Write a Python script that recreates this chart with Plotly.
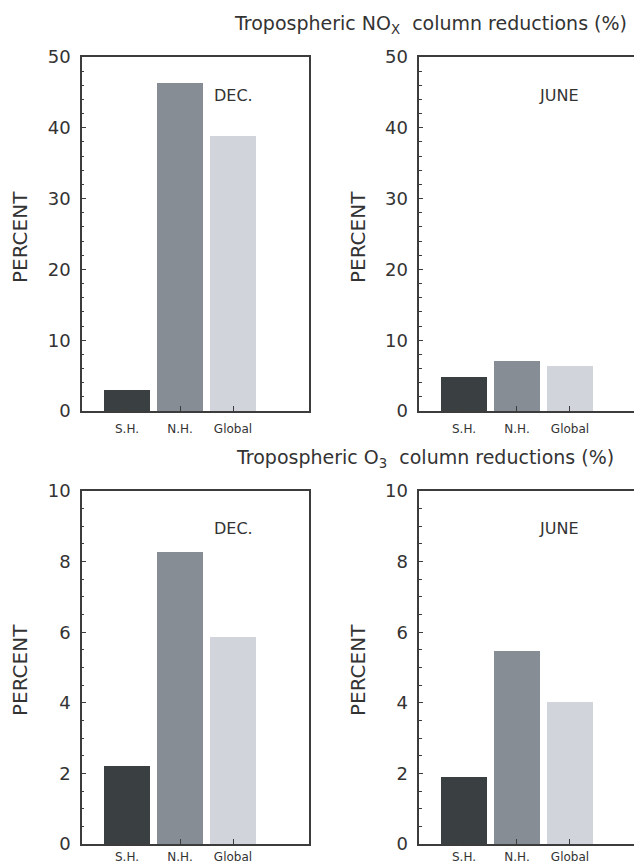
import plotly.graph_objects as go

categories = ["S.H.", "N.H.", "Global"]
nox_dec = [3.0, 46.3, 38.8]
nox_june = [4.8, 7.1, 6.4]
o3_dec = [2.2, 8.27, 5.86]
o3_june = [1.89, 5.47, 4.01]
bar_colors = ["#3a4042", "#878d94", "#d1d4db"]
xpos = [1, 2, 3]

W, H = 642, 863
OFF = 8  # default body margin of the page
TXT = "#333333"
LINE = "#3c3c3c"
FONT = "DejaVu Sans"


def px_x(sx):
    return (sx - OFF) / W


def px_y(sy):
    return 1 - (sy - OFF) / H


fig = go.Figure()

panels = [
    (nox_dec, "x", "y", "y5", (82, 309), (57, 411), 50, 10, 2, 1, (0.151, 4.434), "DEC.", (3.0, 44.5), 6),
    (nox_june, "x2", "y2", "y6", (419.3, 644.5), (57, 411), 50, 10, 2, 1, (0.157, 4.406), "JUNE", (2.79, 44.5), 6),
    (o3_dec, "x3", "y3", "y7", (82, 309), (491, 844), 10, 2, 0.5, 0.5, (0.151, 4.434), "DEC.", (3.0, 8.95), 1),
    (o3_june, "x4", "y4", "y8", (419.3, 644.5), (491, 844), 10, 2, 0.5, 0.5, (0.157, 4.406), "JUNE", (2.79, 8.95), 1),
]

layout = {}
for (vals, xa, ya, yr, xd, yd, ymax, dt, mnl, mnr, xr, lab, lpos, xstand) in panels:
    fig.add_trace(go.Bar(
        x=xpos, y=vals, width=0.87, xaxis=xa, yaxis=ya,
        marker=dict(color=bar_colors, line=dict(width=0)),
        showlegend=False, hoverinfo="skip"))
    xkey = "xaxis" + xa[1:]
    ykey = "yaxis" + ya[1:]
    yrkey = "yaxis" + yr[1:]
    xdom = [px_x(xd[0]), min(px_x(xd[1]), 1.0)]
    ydom = [px_y(yd[1]), px_y(yd[0])]
    layout[xkey] = dict(
        domain=xdom, range=list(xr), anchor=ya, automargin=False,
        tickvals=xpos, ticktext=categories, ticks="inside", ticklen=5,
        tickcolor=LINE, tickwidth=1.2,
        showline=True, linecolor=LINE, linewidth=1.8, mirror=True,
        showgrid=False, zeroline=False,
        tickfont=dict(size=12, color=TXT, family=FONT),
        ticklabelstandoff=xstand,
    )
    layout[ykey] = dict(
        domain=ydom, range=[0, ymax], anchor=xa, automargin=False,
        dtick=dt, tick0=0, ticks="inside", ticklen=4, tickcolor=LINE, tickwidth=1.2,
        minor=dict(dtick=mnl, ticks="inside", ticklen=2.5, tickcolor=LINE, tickwidth=1),
        showline=True, linecolor=LINE, linewidth=1.5, mirror=True,
        showgrid=False, zeroline=False,
        tickfont=dict(size=18, color=TXT, family=FONT),
        ticklabelstandoff=6,
    )
    layout[yrkey] = dict(
        domain=ydom, range=[0, ymax], overlaying=ya, anchor=xa, side="right",
        automargin=False,
        dtick=dt, tick0=0, ticks="inside", ticklen=5, tickcolor=LINE, tickwidth=1.2,
        minor=dict(dtick=mnr, ticks="inside", ticklen=3, tickcolor=LINE, tickwidth=1),
        showticklabels=False, showline=False, showgrid=False, zeroline=False,
    )
    fig.add_annotation(x=lpos[0], y=lpos[1], xref=xa, yref=ya, text=lab,
                       showarrow=False, font=dict(size=16, color=TXT, family=FONT))

for sx, sy in [(20, 237), (358, 237), (20, 670), (358, 670)]:
    fig.add_annotation(x=px_x(sx), y=px_y(sy), xref="paper", yref="paper", text="PERCENT",
                       textangle=-90, showarrow=False, xanchor="center", yanchor="middle",
                       font=dict(size=20, color=TXT, family=FONT))

fig.add_annotation(x=px_x(430), y=px_y(25), xref="paper", yref="paper",
                   text="Tropospheric NO<sub>X</sub>  column reductions (%)",
                   showarrow=False, xanchor="center", yanchor="middle",
                   font=dict(size=19, color=TXT, family=FONT))
fig.add_annotation(x=px_x(425), y=px_y(458), xref="paper", yref="paper",
                   text="Tropospheric O<sub>3</sub>  column reductions (%)",
                   showarrow=False, xanchor="center", yanchor="middle",
                   font=dict(size=19, color=TXT, family=FONT))

fig.update_layout(
    width=W, height=H,
    margin=dict(l=0, r=0, t=0, b=0, autoexpand=False),
    paper_bgcolor="white", plot_bgcolor="white",
    bargap=0, barmode="overlay",
    **layout,
)

fig.write_html("out.html")
